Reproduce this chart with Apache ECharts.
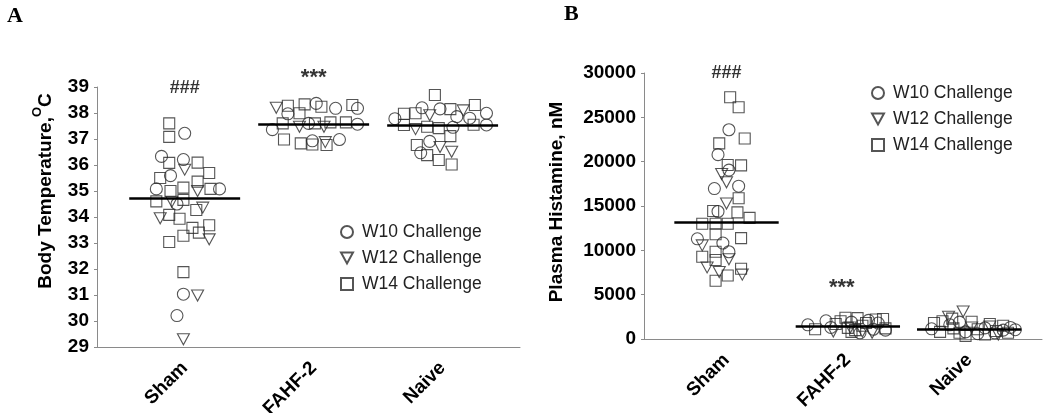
<!DOCTYPE html>
<html>
<head>
<meta charset="utf-8">
<script src="https://cdn.jsdelivr.net/npm/echarts@6/dist/echarts.min.js"></script>
<style>
html,body{margin:0;padding:0;background:#fff;}
#chart{width:1050px;height:413px;}
</style>
</head>
<body>
<div id="chart"></div>
<script>
// ---------- DATA ----------
const categories = ['Sham', 'FAHF-2', 'Naive'];
const seriesNames = ['W10 Challenge', 'W12 Challenge', 'W14 Challenge'];

// Panel A: Body temperature (°C); points are [x position (group + jitter), value]
const tempW10 = [
  [1.00, 37.22], [0.82, 36.33], [0.99, 36.21], [0.89, 35.59], [0.78, 35.08], [1.27, 35.08],
  [0.94, 34.50], [0.99, 31.03], [0.94, 30.21],
  [2.02, 38.37], [2.17, 38.18], [2.34, 38.18], [1.80, 37.97], [1.68, 37.36], [1.96, 37.60],
  [2.34, 37.57], [1.99, 36.93], [2.20, 36.98],
  [2.84, 38.20], [2.98, 38.16], [3.34, 37.99], [2.63, 37.78], [3.11, 37.86], [3.21, 37.80],
  [3.08, 37.45], [3.34, 37.54], [2.90, 36.91], [2.83, 36.47]
];
const tempW12 = [
  [1.00, 35.82], [1.10, 35.00], [0.90, 34.59], [1.14, 34.36], [0.81, 33.95], [1.19, 33.14],
  [1.10, 30.98], [0.99, 29.30],
  [1.71, 38.20], [1.89, 37.47], [2.08, 37.47], [2.09, 36.88],
  [3.16, 38.10], [2.90, 37.91], [2.79, 37.38], [2.98, 36.69], [3.07, 36.51]
];
const tempW14 = [
  [0.88, 37.60], [0.88, 37.08], [0.88, 36.08], [1.10, 36.09], [1.19, 35.69], [0.81, 35.50],
  [1.10, 35.36], [0.99, 35.13], [0.89, 35.00], [1.20, 35.08], [0.78, 34.60], [0.99, 34.66],
  [1.09, 34.27], [0.88, 34.08], [0.96, 33.93], [1.06, 33.58], [1.19, 33.68], [0.99, 33.28],
  [1.11, 33.40], [0.88, 33.04], [0.99, 31.88],
  [1.80, 38.28], [1.93, 38.33], [2.06, 38.24], [2.30, 38.31], [1.89, 37.99], [1.76, 37.60],
  [2.01, 37.60], [2.13, 37.64], [2.25, 37.64], [1.77, 36.98], [1.90, 36.83], [1.99, 36.79],
  [2.10, 36.77],
  [2.94, 38.69], [2.70, 37.97], [2.79, 37.99], [3.06, 38.15], [3.25, 38.31], [2.70, 37.54],
  [2.88, 37.47], [2.97, 37.42], [3.24, 37.55], [3.06, 37.11], [2.80, 36.77], [2.88, 36.38],
  [2.97, 36.19], [3.07, 36.02]
];
const tempMeans = [34.72, 37.58, 37.54];
const tempMarks = [[1, 38.96, '###'], [2, 39.35, '***']];

// Panel B: Plasma histamine (nM)
const histW10 = [
  [1.02, 23600], [0.93, 20790], [1.02, 19050], [0.90, 16970], [1.10, 17230], [0.93, 14380],
  [0.76, 11300], [0.97, 10820], [1.02, 9840],
  [1.67, 1600], [1.82, 2050], [1.86, 1300], [2.03, 1900], [2.10, 700], [2.17, 2100],
  [2.21, 1100], [2.25, 1800], [2.31, 1000],
  [2.69, 1150], [2.84, 1600], [2.92, 1900], [2.97, 800], [3.07, 600], [3.13, 1250],
  [3.21, 700], [3.28, 1000], [3.34, 1300], [3.38, 1050]
];
const histW12 = [
  [0.96, 18600], [1.00, 17670], [1.00, 15280], [0.80, 10560], [1.02, 9000], [0.84, 8070],
  [0.94, 7560], [1.13, 7260],
  [1.88, 850], [2.02, 1300], [2.12, 850], [2.20, 700],
  [2.83, 2500], [2.95, 3100], [3.02, 1300], [3.17, 1400], [3.24, 500]
];
const histW14 = [
  [1.03, 27260], [1.10, 26130], [1.15, 22620], [0.94, 22060], [1.01, 19620], [1.12, 19580],
  [1.10, 15880], [0.89, 14430], [1.09, 14280], [1.19, 13660], [0.80, 13000], [0.91, 13000],
  [1.01, 13000], [0.91, 11810], [1.12, 11380], [0.80, 9280], [0.91, 9840], [0.91, 8910],
  [1.01, 7170], [1.12, 7920], [0.91, 6570],
  [1.73, 1100], [1.90, 1700], [1.98, 2400], [2.00, 1250], [2.03, 800], [2.08, 2350],
  [2.12, 1500], [2.15, 1800], [2.23, 2200], [2.29, 2250], [2.31, 1200], [2.06, 1000],
  [1.94, 2000],
  [2.71, 1800], [2.78, 2000], [2.76, 800], [2.87, 1200], [2.92, 700], [2.97, 350],
  [3.02, 1950], [3.07, 1100], [3.13, 500], [3.17, 1700], [3.22, 900], [3.28, 1500],
  [3.32, 700], [2.86, 2300]
];
const histMeans = [13200, 1450, 1050];
const histMarks = [[1, 29950, '###'], [1.95, 5760, '***']];

// ---------- STYLE ----------
const FONT = '"Liberation Sans", Arial, sans-serif';
const AXIS_GRAY = '#8a8a8a';
const MARK = '#2a2a2a';
const TRI_DOWN = 'path://M0,0 L12,0 L6,11 Z';
const symbols = [
  { symbol: 'circle', size: 12 },
  { symbol: TRI_DOWN, size: [12, 11] },
  { symbol: 'rect', size: 11 }
];
const HALF = 0.43;

function xAxisCfg(gridIndex) {
  return {
    type: 'value', gridIndex, min: 0.32, max: 3.6,
    splitLine: { show: false },
    axisTick: { show: false },
    axisLine: { show: true, lineStyle: { color: AXIS_GRAY, width: 1 } },
    axisLabel: {
      customValues: [1, 2, 3],
      formatter: v => categories[Math.round(v) - 1] || '',
      rotate: 45, margin: 18,
      fontFamily: FONT, fontWeight: 'bold', fontSize: 19, color: '#000'
    }
  };
}

function scatterSeries(panel, dataSets) {
  return dataSets.map((d, i) => ({
    type: 'scatter', name: seriesNames[i],
    xAxisIndex: panel, yAxisIndex: panel,
    symbol: symbols[i].symbol, symbolSize: symbols[i].size,
    itemStyle: { color: 'rgba(255,255,255,0)', borderColor: MARK, borderWidth: 1.1 },
    emphasis: { disabled: true },
    silent: true, clip: false,
    data: d
  }));
}

function meanSeries(panel, means) {
  return {
    type: 'scatter', name: 'mean' + panel,
    xAxisIndex: panel, yAxisIndex: panel, data: [], silent: true,
    markLine: {
      silent: true, symbol: ['none', 'none'], label: { show: false },
      lineStyle: { color: '#000', width: 2.5, type: 'solid' },
      emphasis: { disabled: true },
      data: means.map((m, i) => [{ coord: [i + 1 - HALF, m] }, { coord: [i + 1 + HALF, m] }])
    }
  };
}

function markSeries(panel, marks) {
  return {
    type: 'scatter', name: 'marks' + panel,
    xAxisIndex: panel, yAxisIndex: panel, symbolSize: 0, silent: true, clip: false,
    data: marks.map(m => ({
      value: [m[0], m[1]], name: m[2],
      label: { fontSize: m[2] === '***' ? 22 : 18 }
    })),
    label: {
      show: true, position: 'inside', formatter: p => p.name,
      fontFamily: FONT, fontWeight: 'bold', color: '#000'
    }
  };
}

const legendCommon = {
  orient: 'vertical', itemWidth: 12, itemHeight: 12, itemGap: 8, padding: 0,
  data: seriesNames, selectedMode: false,
  textStyle: { fontFamily: FONT, fontSize: 17.5, color: '#222', padding: [0, 0, 0, 4] }
};

const chart = echarts.init(document.getElementById('chart'), null, { renderer: 'canvas' });

chart.setOption({
  animation: false,
  backgroundColor: '#fff',
  grid: [
    { left: 97, top: 87, width: 423, height: 260, outerBoundsMode: 'none', containLabel: false },
    { left: 644, top: 73, width: 398, height: 266, outerBoundsMode: 'none', containLabel: false }
  ],
  xAxis: [xAxisCfg(0), xAxisCfg(1)],
  yAxis: [
    {
      type: 'value', gridIndex: 0, min: 29, max: 39, interval: 1,
      splitLine: { show: false },
      axisLine: { show: true, lineStyle: { color: AXIS_GRAY } },
      axisTick: { show: true, length: 3, lineStyle: { color: AXIS_GRAY } },
      axisLabel: { fontFamily: FONT, fontWeight: 'bold', fontSize: 19, color: '#000', margin: 8 },
      name: '{t|Body Temperature,}{s|O}{t|C}',
      nameLocation: 'middle', nameRotate: 90, nameGap: 40,
      nameTextStyle: {
        padding: [0, 0, 0, 52],
        rich: {
          t: { fontFamily: FONT, fontWeight: 'bold', fontSize: 19, color: '#000', lineHeight: 22 },
          s: { fontFamily: FONT, fontWeight: 'bold', fontSize: 13, color: '#000', lineHeight: 14, padding: [0, 0, 18, 0] }
        }
      }
    },
    {
      type: 'value', gridIndex: 1, min: 0, max: 30000, interval: 5000,
      splitLine: { show: false },
      axisLine: { show: true, lineStyle: { color: AXIS_GRAY } },
      axisTick: { show: true, length: 3, lineStyle: { color: AXIS_GRAY } },
      axisLabel: {
        fontFamily: FONT, fontWeight: 'bold', fontSize: 19, color: '#000', margin: 8,
        formatter: v => String(v)
      },
      name: 'Plasma Histamine, nM',
      nameLocation: 'middle', nameRotate: 90, nameGap: 78,
      nameTextStyle: { fontFamily: FONT, fontWeight: 'bold', fontSize: 19, color: '#000', padding: [0, 0, 0, 8] }
    }
  ],
  legend: [
    Object.assign({ left: 340, top: 223 }, legendCommon),
    Object.assign({ left: 871, top: 84 }, legendCommon)
  ],
  graphic: [
    { type: 'text', left: 7, top: 5, style: { text: 'A', font: 'bold 22px "Liberation Serif", "Times New Roman", serif', fill: '#000' } },
    { type: 'text', left: 564, top: 3, style: { text: 'B', font: 'bold 22px "Liberation Serif", "Times New Roman", serif', fill: '#000' } }
  ],
  series: [
    ...scatterSeries(0, [tempW10, tempW12, tempW14]),
    meanSeries(0, tempMeans),
    markSeries(0, tempMarks),
    ...scatterSeries(1, [histW10, histW12, histW14]),
    meanSeries(1, histMeans),
    markSeries(1, histMarks)
  ]
});
</script>
</body>
</html>
